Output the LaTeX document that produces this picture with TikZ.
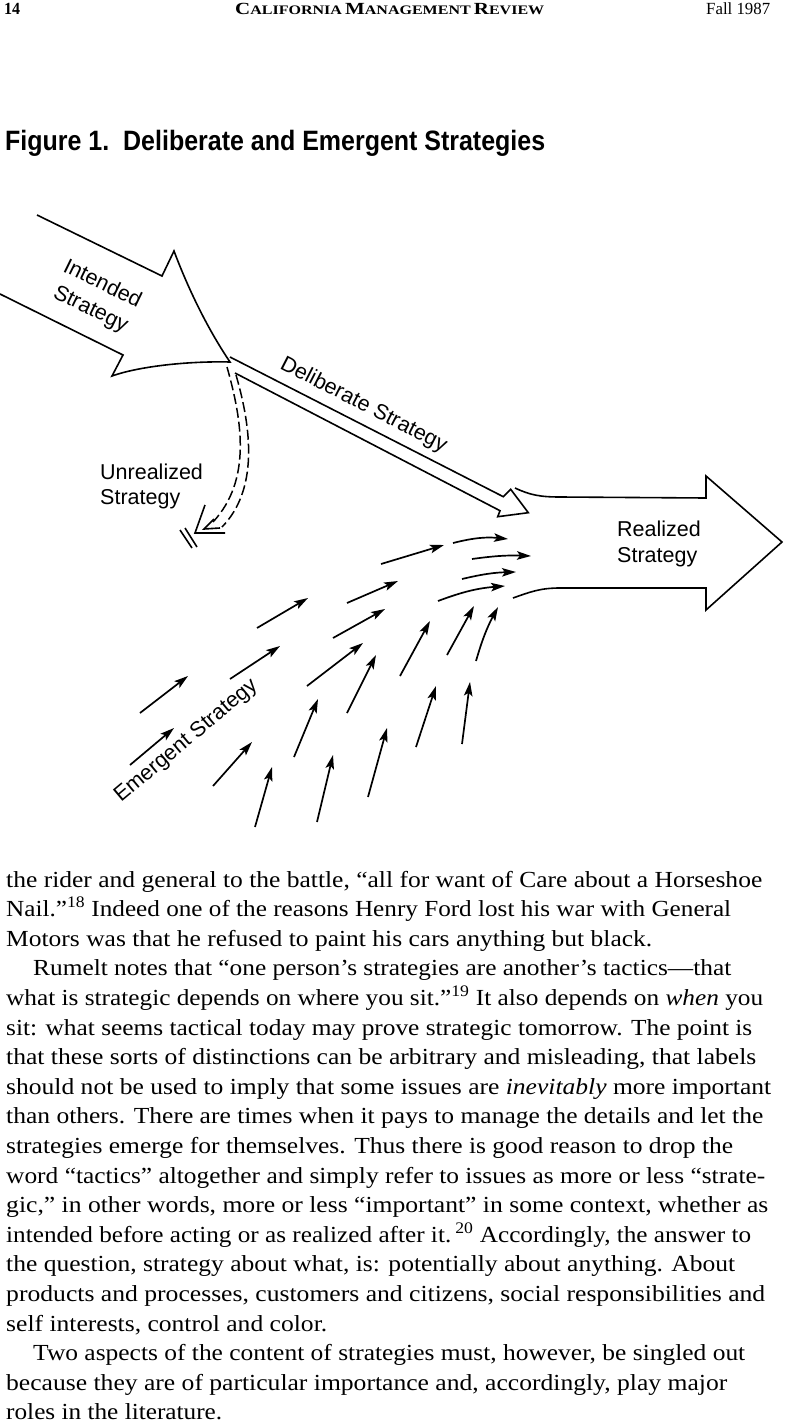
\documentclass[tikz,border=0pt]{standalone}
\usepackage{fontspec}
\usepackage{graphicx}
\setmainfont{Liberation Serif}
\newfontfamily\hv{Liberation Sans}
\usetikzlibrary{arrows.meta}
\newcommand{\bodyfont}{\fontsize{23}{28}\selectfont}
\newcommand{\labfont}{\hv\fontsize{21.5}{26}\selectfont}
\newcommand{\hdsc}[2]{{\fontsize{17}{17}\selectfont #1}{\fontsize{13}{13}\selectfont #2}}
\newcommand{\bline}[5]{\node[anchor=base west,inner sep=0pt,font=\bodyfont] (#1) at (#2,#3) {\resizebox{#4pt}{\height}{#5}};}
\tikzset{
  fig/.style={line width=1.6pt,line join=miter},
  dsh/.style={line width=1.5pt,dash pattern=on 10pt off 4pt},
  em/.style={line width=1.7pt,-{Stealth[length=14pt,width=8.5pt,inset=3pt]}},
  lab/.style={anchor=base west,inner sep=0pt,font=\labfont}
}
\begin{document}
\begin{tikzpicture}[x=1pt,y=-1pt]
\useasboundingbox (0,0) rectangle (785,1423);
% header
\node[anchor=base west,inner sep=0pt,font=\fontsize{17}{17}\selectfont\bfseries] (pg) at (4,15) {\resizebox{16pt}{\height}{14}};
\node[anchor=base west,inner sep=0pt,font=\bfseries] (jn) at (235,15) {\resizebox{309pt}{\height}{\hdsc{C}{ALIFORNIA} \hdsc{M}{ANAGEMENT} \hdsc{R}{EVIEW}}};
\node[anchor=base west,inner sep=0pt,font=\fontsize{17}{17}\selectfont] (dt) at (706,15) {\resizebox{64pt}{\height}{Fall 1987}};
% title
\node[anchor=base west,inner sep=0pt,font=\hv\bfseries\fontsize{28}{30}\selectfont] (ttl) at (5,151) {\resizebox{540pt}{\height}{Figure 1.\ \ Deliberate and Emergent Strategies}};
% intended strategy arrow
\draw[fig] (37,215) -- (162,276) -- (174,251) .. controls (186,283) and (205,325) .. (230,362)
  .. controls (190,361) and (140,366) .. (112,376) -- (123,355) -- (0,294);
\node[lab,rotate=-26] (int1) at (62,271) {Intended};
\node[lab,rotate=-26] (int2) at (52,297) {Strategy};
% deliberate strategy arrow
\draw[fig] (230,357) -- (503.3,496.7) -- (510.7,489.3) -- (528.3,512.7) -- (497.7,516.7) -- (500,510.7) -- (235,373);
\node[lab,rotate=-27.2] (del) at (279,368) {Deliberate Strategy};
% unrealized
\draw[dsh] (227,367) .. controls (242,420) and (252,480) .. (213,522);
\draw[dsh] (236,375) .. controls (252,430) and (258,490) .. (222,527);
\draw[fig] (205,505) -- (195,533) -- (225,533);
\draw[fig] (214,519) -- (204,529) -- (220,528);
\draw[fig] (180,530) -- (192,548);
\draw[fig] (185,528) -- (197,547);
\node[lab] (unr1) at (100,479) {Unrealized};
\node[lab] (unr2) at (100,504) {Strategy};
% realized strategy arrow
\draw[fig] (515,488) .. controls (530,495) and (540,497) .. (560,497) -- (706,498) -- (706,476) -- (782,542)
  -- (706,610) -- (706,588) -- (560,588) .. controls (540,588) and (530,592) .. (513,598);
\node[lab] (rea1) at (617,536) {Realized};
\node[lab] (rea2) at (617,562) {Strategy};
% emergent arrows
\draw[em] (140,713) -- (188,676);
\draw[em] (130,765) -- (174,728);
\draw[em] (213,786) -- (252,742);
\draw[em] (255,827) -- (272,767);
\draw[em] (317,822) -- (333,755);
\draw[em] (368,797) -- (387,728);
\draw[em] (416,747) -- (436,686);
\draw[em] (462,744) -- (470,682);
\draw[em] (294,757) -- (318,699);
\draw[em] (347,713) -- (376,655);
\draw[em] (400,676) -- (430,621);
\draw[em] (447,655) -- (474,606);
\draw[em] (476,661) to[bend left=6] (498,607);
\draw[em] (307,686) -- (363,643);
\draw[em] (333,638) -- (385,609);
\draw[em] (230,679) -- (280,646);
\draw[em] (257,628) -- (308,598);
\draw[em] (347,603) -- (398,581);
\draw[em] (381,564) -- (444,545);
\draw[em] (453,543) to[bend left=10] (508,539);
\draw[em] (472,559) to[bend left=5] (531,556);
\draw[em] (462,579) to[bend left=6] (516,572);
\draw[em] (438,601) to[bend left=8] (505,586);
\node[lab,rotate=40] (eme) at (121,803) {Emergent Strategy};
% body text
\bline{l0}{6}{887}{756}{the rider and general to the battle, “all for want of Care about a Horseshoe}
\bline{l1}{6}{916.6}{725}{Nail.”\textsuperscript{18} Indeed one of the reasons Henry Ford lost his war with General}
\bline{l2}{6}{946.2}{646}{Motors was that he refused to paint his cars anything but black.}
\bline{l3}{33}{975.8}{698}{Rumelt notes that “one person’s strategies are another’s tactics—that}
\bline{l4}{6}{1005.4}{757}{what is strategic depends on where you sit.”\textsuperscript{19} It also depends on \textit{when} you}
\bline{l5}{6}{1035}{746}{sit: what seems tactical today may prove strategic tomorrow. The point is}
\bline{l6}{6}{1064.6}{750}{that these sorts of distinctions can be arbitrary and misleading, that labels}
\bline{l7}{6}{1094.2}{765}{should not be used to imply that some issues are \textit{inevitably} more important}
\bline{l8}{6}{1123.8}{757}{than others. There are times when it pays to manage the details and let the}
\bline{l9}{6}{1153.4}{727}{strategies emerge for themselves. Thus there is good reason to drop the}
\bline{l10}{6}{1183}{759}{word “tactics” altogether and simply refer to issues as more or less “strate-}
\bline{l11}{6}{1212.6}{762}{gic,” in other words, more or less “important” in some context, whether as}
\bline{l12}{6}{1242.2}{745}{intended before acting or as realized after it.\,\textsuperscript{20} Accordingly, the answer to}
\bline{l13}{6}{1271.8}{729}{the question, strategy about what, is: potentially about anything. About}
\bline{l14}{6}{1301.4}{759}{products and processes, customers and citizens, social responsibilities and}
\bline{l15}{6}{1331}{321}{self interests, control and color.}
\bline{l16}{33}{1360.6}{712}{Two aspects of the content of strategies must, however, be singled out}
\bline{l17}{6}{1390.2}{721}{because they are of particular importance and, accordingly, play major}
\bline{l18}{6}{1419.8}{216}{roles in the literature.}
\end{tikzpicture}
\end{document}
